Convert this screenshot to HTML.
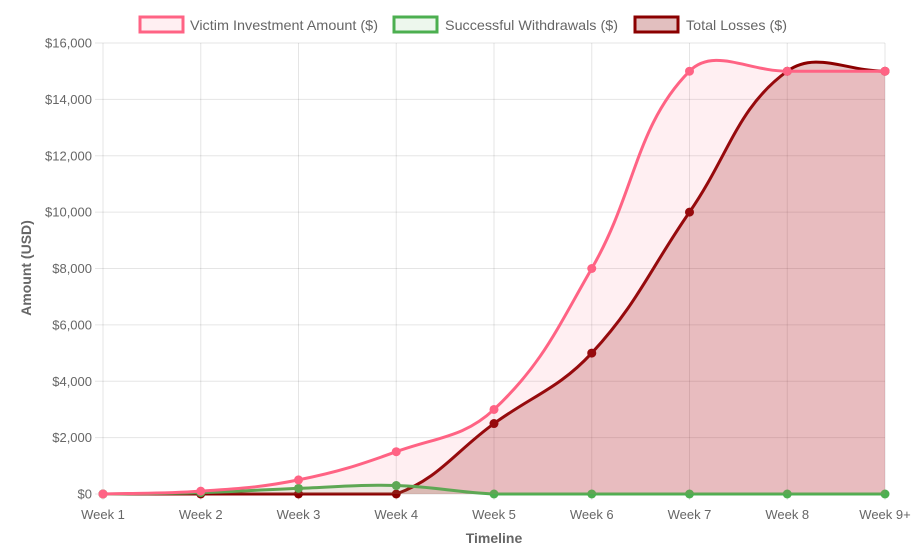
<!DOCTYPE html>
<html><head><meta charset="utf-8"><style>
html,body{margin:0;padding:0;background:#fff;}
svg{display:block;font-family:"Liberation Sans",Arial,sans-serif;}
</style></head><body>
<svg id="c" width="923" height="551" xmlns="http://www.w3.org/2000/svg">
<g id="grid"></g>
<g id="series"></g>
<g font-size="14" fill="#666">
<rect x="140" y="17" width="43" height="15" fill="rgba(255,99,132,0.1)" stroke="#ff6384" stroke-width="3"/>
<text x="190" y="30" textLength="188" lengthAdjust="spacingAndGlyphs">Victim Investment Amount ($)</text>
<rect x="394" y="17" width="43" height="15" fill="rgba(76,175,80,0.1)" stroke="#4caf50" stroke-width="3"/>
<text x="445" y="30" textLength="173" lengthAdjust="spacingAndGlyphs">Successful Withdrawals ($)</text>
<rect x="635" y="17" width="43" height="15" fill="rgba(139,0,0,0.25)" stroke="#8b0000" stroke-width="3"/>
<text x="686" y="30" textLength="101" lengthAdjust="spacingAndGlyphs">Total Losses ($)</text>
<text x="494" y="543" text-anchor="middle" font-weight="bold" font-size="14">Timeline</text>
<text transform="translate(31,268) rotate(-90)" text-anchor="middle" font-weight="bold" font-size="14">Amount (USD)</text>
</g>
</svg>
<script>
var X0=103,X1=885,Y0=494,Y16=43;
function px(i){return X0+i*(X1-X0)/8;}
function py(v){return Y0-(v/16000)*(Y0-Y16);}
var g=document.getElementById('grid'),s='';
for(var k=0;k<=8;k++){var y=py(k*2000);
s+='<line x1="'+(X0-8)+'" x2="'+X1+'" y1="'+y+'" y2="'+y+'" stroke="rgba(0,0,0,0.1)"/>';
s+='<text x="'+(X0-11)+'" y="'+(y+4.5)+'" text-anchor="end" font-size="13" fill="#666">$'+(k*2000).toLocaleString('en-US')+'</text>';}
var labs=["Week 1","Week 2","Week 3","Week 4","Week 5","Week 6","Week 7","Week 8","Week 9+"];
for(var i=0;i<9;i++){var x=px(i);
s+='<line x1="'+x+'" x2="'+x+'" y1="'+Y16+'" y2="'+(Y0+6)+'" stroke="rgba(0,0,0,0.1)"/>';
s+='<text x="'+x+'" y="'+(Y0+25)+'" text-anchor="middle" font-size="13" fill="#666">'+labs[i]+'</text>';}
g.innerHTML=s;
var ds=[
{d:[0,0,0,0,2500,5000,10000,15000,15000],c:"#8b0000",f:"rgba(139,0,0,0.22)"},
{d:[0,50,200,300,0,0,0,0,0],c:"#4caf50",f:"rgba(76,175,80,0.1)"},
{d:[0,100,500,1500,3000,8000,15000,15000,15000],c:"#ff6384",f:"rgba(255,99,132,0.1)"}];
function path(p){var t=0.4,cp=[];
for(var i=0;i<p.length;i++){var pr=p[Math.max(0,i-1)],cu=p[i],nx=p[Math.min(p.length-1,i+1)];
var d01=Math.hypot(cu[0]-pr[0],cu[1]-pr[1]),d12=Math.hypot(nx[0]-cu[0],nx[1]-cu[1]);
var s01=d01/(d01+d12)||0,s12=d12/(d01+d12)||0;var fa=t*s01,fb=t*s12;
cp.push({p:[cu[0]-fa*(nx[0]-pr[0]),Math.max(Y16,Math.min(Y0,cu[1]-fa*(nx[1]-pr[1])))],n:[cu[0]+fb*(nx[0]-pr[0]),Math.max(Y16,Math.min(Y0,cu[1]+fb*(nx[1]-pr[1])))]});}
var d='M'+p[0][0]+','+p[0][1];
for(var i=1;i<p.length;i++)d+=' C'+cp[i-1].n[0]+','+cp[i-1].n[1]+' '+cp[i].p[0]+','+cp[i].p[1]+' '+p[i][0]+','+p[i][1];
return d;}
var out='';
ds.forEach(function(o){var p=o.d.map(function(v,i){return [px(i),py(v)];});var d=path(p);
out+='<path d="'+d+' L'+X1+','+Y0+' L'+X0+','+Y0+' Z" fill="'+o.f+'"/>';
out+='<path d="'+d+'" fill="none" stroke="'+o.c+'" stroke-width="3"/>';
p.forEach(function(q){out+='<circle cx="'+q[0]+'" cy="'+q[1]+'" r="4.5" fill="'+o.c+'"/>';});});
document.getElementById('series').innerHTML=out;
</script>
</body></html>
